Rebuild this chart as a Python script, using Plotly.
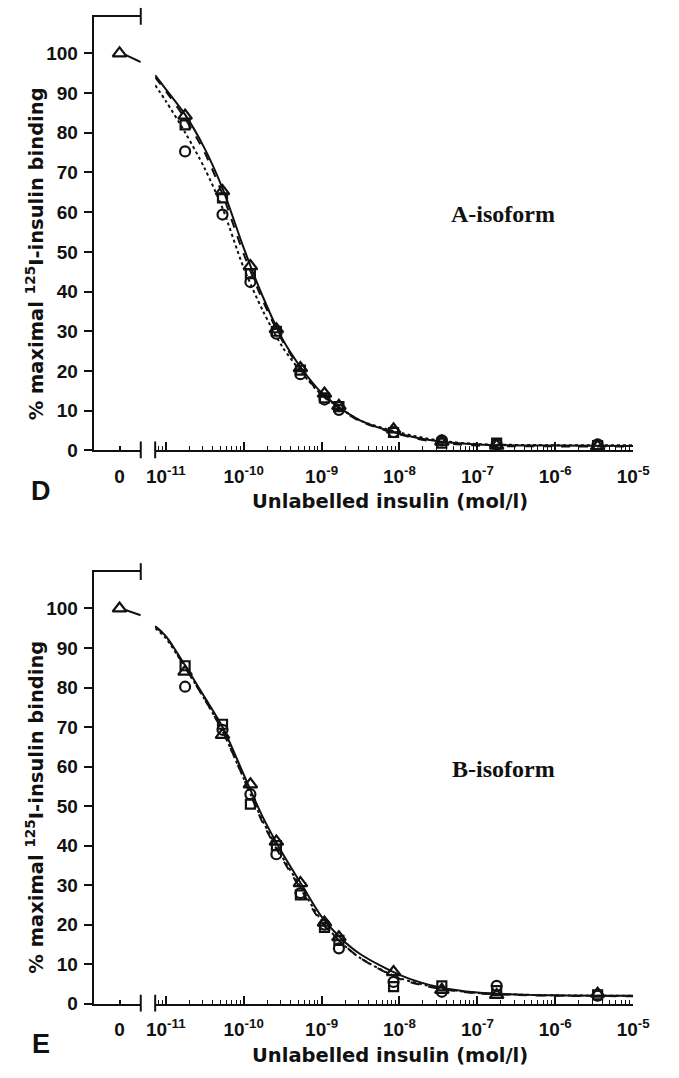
import plotly.graph_objects as go

W, H = 679, 1078

# ---------------- data ----------------
conc = [1.77e-11, 5.35e-11, 1.22e-10, 2.63e-10, 5.35e-10, 1.09e-9, 1.67e-9,
        8.4e-9, 3.5e-8, 1.77e-7, 3.5e-6]

# Panel D (A-isoform)
d_tri = [84.3, 65.3, 46.4, 30.5, 20.7, 14.3, 11.2, 5.3, 2.2, 1.2, 1.0]
d_sq = [82.0, 63.6, 44.5, 30.0, 20.2, 13.2, 11.0, 4.5, 1.8, 1.8, 1.2]
d_circ = [75.3, 59.4, 42.4, 29.4, 19.2, 12.8, 10.2, 4.6, 2.5, 1.5, 1.5]

# Panel E (B-isoform)
e_tri = [84.0, 68.0, 55.5, 41.0, 30.5, 20.5, 16.8, 8.0, 3.5, 2.2, 2.5]
e_sq = [85.5, 70.7, 50.5, 40.0, 27.5, 19.3, 16.0, 4.3, 4.5, 3.3, 2.2]
e_circ = [80.2, 69.3, 53.0, 37.8, 28.0, 20.0, 14.0, 5.5, 3.0, 4.5, 2.0]

# value at zero concentration
zero_x = [0]
zero_y = [100]

# fitted curves
curve_x = [7.3e-12, 1e-11, 1.78e-11, 3.16e-11, 5.35e-11, 1e-10, 1.78e-10,
           3.16e-10, 5.6e-10, 1e-9, 1.78e-9, 3.16e-9, 1e-8, 3.16e-8, 1e-7,
           1e-6, 1e-5]
d_curve_solid = [94.5, 91, 84.5, 76, 66, 51, 38.5, 28, 20.5, 14.5, 10.5, 7.5,
                 4.2, 2.3, 1.5, 1.2, 1.1]
d_curve_dash = [94, 90.5, 83.5, 75, 64.5, 49.5, 37.5, 27.5, 20, 14, 10.3, 7.3,
                4.0, 2.0, 1.2, 1.0, 1.0]
d_curve_dot = [92, 88, 80, 71, 61, 46, 35, 26, 19.5, 14, 10.5, 7.5,
               4.5, 2.5, 1.6, 1.3, 1.3]
e_curve_solid = [95.5, 93, 85.5, 77.5, 70, 58, 47, 38, 30, 22, 16.5, 12.5,
                 7.3, 4.2, 2.8, 2.1, 2.0]
e_curve_dash = [95.5, 93, 85, 77, 69, 57, 45.5, 36.5, 28.5, 20.5, 15.5, 11.5,
                6.3, 3.8, 2.6, 2.0, 1.9]
e_curve_dot = [95, 92.5, 85, 77, 69, 57, 46, 37, 29, 21, 15.5, 11.5,
               6.5, 4.0, 2.7, 2.1, 2.0]

# short curve segment in the zero section
zcurve_x = [0.25, 0.9]
d_zcurve = [99.6, 97.8]
e_zcurve = [99.6, 98.3]

x_tickvals = [1e-11, 1e-10, 1e-9, 1e-8, 1e-7, 1e-6, 1e-5]
x_ticktext = ["10<sup>-11</sup>", "10<sup>-10</sup>", "10<sup>-9</sup>",
              "10<sup>-8</sup>", "10<sup>-7</sup>", "10<sup>-6</sup>",
              "10<sup>-5</sup>"]
y_tickvals = [0, 10, 20, 30, 40, 50, 60, 70, 80, 90, 100]

# ---------------- layout geometry ----------------
def px_x(p):
    return p / W


def px_y(p):
    return 1 - p / H


XZ = [px_x(88), px_x(137)]
XL = [px_x(152), px_x(649)]
panels = [
    dict(top=17, bot=455, name="D", iso="A-isoform",
         tri=d_tri, sq=d_sq, circ=d_circ,
         cs=d_curve_solid, cd=d_curve_dash, co=d_curve_dot, zc=d_zcurve),
    dict(top=578, bot=1014, name="E", iso="B-isoform",
         tri=e_tri, sq=e_sq, circ=e_circ,
         cs=e_curve_solid, cd=e_curve_dash, co=e_curve_dot, zc=e_zcurve),
]

BLACK = "#111111"
tickfont = dict(family="Liberation Sans, Arial, sans-serif", size=19,
                color=BLACK, weight="bold")
titlefont = dict(family="DejaVu Sans, sans-serif", size=19.5, color=BLACK,
                 weight="bold")

minor_vals = []
for e in range(-12, -5):
    for m in range(2, 10):
        v = m * 10 ** e
        if 7.3e-12 <= v <= 1e-5:
            minor_vals.append(v)

fig = go.Figure()
layout = dict(
    width=W, height=H, margin=dict(l=0, r=0, t=0, b=0),
    paper_bgcolor="white", plot_bgcolor="white", showlegend=False,
)
shapes = []
annotations = []

for i, p in enumerate(panels):
    n = 2 * i + 1
    xz = "x" if n == 1 else f"x{n}"
    xl = f"x{n + 1}"
    yy = "y" if i == 0 else "y2"
    yname = "yaxis" if i == 0 else "yaxis2"
    ydom = [px_y(p["bot"]), px_y(p["top"])]

    layout[("xaxis" if n == 1 else f"xaxis{n}")] = dict(
        domain=XZ, anchor=yy, range=[-1.1, 0.9], showline=True,
        linewidth=2, linecolor=BLACK, mirror=True, showgrid=False,
        zeroline=False, tickmode="array", tickvals=[0], ticktext=["0"],
        ticks="inside", ticklen=4, tickwidth=1.5, tickcolor=BLACK,
        tickfont=tickfont, ticklabelstandoff=8,
    )
    layout[f"xaxis{n + 1}"] = dict(
        domain=XL, anchor=yy, type="log", range=[-11.136, -5.0],
        showline=True, linewidth=2, linecolor=BLACK, showgrid=False,
        zeroline=False, tickmode="array", tickvals=x_tickvals,
        ticktext=x_ticktext, ticks="inside", ticklen=8, tickwidth=1.5,
        tickcolor=BLACK, tickfont=tickfont, ticklabelstandoff=8,
        minor=dict(tickmode="array", tickvals=minor_vals, ticks="inside",
                   ticklen=4, tickwidth=1.2, tickcolor=BLACK, showgrid=False),
    )
    layout[yname] = dict(
        domain=ydom, anchor=xz, range=[0, 109.2], showline=True,
        linewidth=2, linecolor=BLACK, showgrid=False, zeroline=False,
        tickmode="array", tickvals=y_tickvals, ticks="outside", ticklen=8,
        tickwidth=2, tickcolor=BLACK, tickfont=tickfont, ticklabelstandoff=2,
    )

    # curves
    for vals, dash in ((p["cs"], "solid"), (p["cd"], "dash"), (p["co"], "dot")):
        fig.add_trace(go.Scatter(
            x=curve_x, y=vals, xaxis=xl, yaxis=yy, mode="lines",
            line=dict(color=BLACK, width=2, dash=dash, shape="spline",
                      smoothing=0.8),
            hoverinfo="skip"))
    fig.add_trace(go.Scatter(
        x=zcurve_x, y=p["zc"], xaxis=xz, yaxis=yy, mode="lines",
        line=dict(color=BLACK, width=2, shape="spline"), hoverinfo="skip"))

    # markers
    for vals, sym, size in ((p["circ"], "circle-open", 10),
                            (p["sq"], "square-open", 9),
                            (p["tri"], "triangle-up-open", 12)):
        fig.add_trace(go.Scatter(
            x=conc, y=vals, xaxis=xl, yaxis=yy, mode="markers",
            marker=dict(symbol=sym, size=size, color=BLACK,
                        line=dict(color=BLACK, width=2.2)),
            cliponaxis=False))
    fig.add_trace(go.Scatter(
        x=zero_x, y=zero_y, xaxis=xz, yaxis=yy, mode="markers",
        marker=dict(symbol="triangle-up-open", size=12, color=BLACK,
                    line=dict(color=BLACK, width=2.2)),
        cliponaxis=False))

    # axis break marks
    for (bx, by) in ((137, p["top"]), (137, p["bot"]), (152, p["bot"])):
        shapes.append(dict(type="line", xref="paper", yref="paper",
                           x0=px_x(bx), x1=px_x(bx), y0=px_y(by - 9),
                           y1=px_y(by + 8), line=dict(color=BLACK, width=2)))

    # texts
    annotations.append(dict(
        text="Unlabelled insulin (mol/l)", xref="paper", yref="paper",
        x=px_x(396), y=px_y(p["bot"] + 52), showarrow=False,
        font=titlefont, xanchor="center", yanchor="middle"))
    annotations.append(dict(
        text="% maximal <sup>125</sup>I-insulin binding", xref="paper",
        yref="paper", x=px_x(27), y=px_y(p["bot"] - 199), showarrow=False,
        font=titlefont, textangle=-90, xanchor="center", yanchor="middle"))
    annotations.append(dict(
        text=p["name"], xref="paper", yref="paper", x=px_x(33),
        y=px_y(p["bot"] + 41), showarrow=False,
        font=dict(family="Liberation Sans, Arial, sans-serif", size=27,
                  color=BLACK, weight="bold"),
        xanchor="center", yanchor="middle"))
    annotations.append(dict(
        text=p["iso"], xref="paper", yref="paper", x=px_x(514),
        y=px_y(p["top"] + 199), showarrow=False,
        font=dict(family="Liberation Serif, Times New Roman, serif", size=24,
                  color=BLACK, weight="bold"),
        xanchor="center", yanchor="middle"))

layout["shapes"] = shapes
layout["annotations"] = annotations
fig.update_layout(**layout)
fig.write_html("out.html")
